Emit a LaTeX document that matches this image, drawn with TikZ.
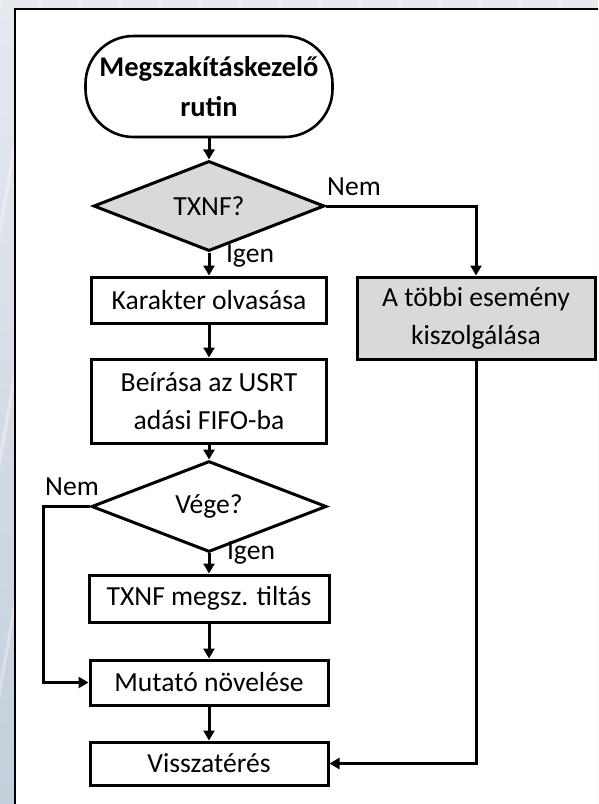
\documentclass[tikz,border=0pt]{standalone}
\usepackage{fontspec}
\setmainfont{Carlito}
\usetikzlibrary{shapes.geometric,arrows.meta}
\definecolor{framebg}{HTML}{D6DCE5}
\definecolor{framebgdark}{HTML}{C4CEDC}
\definecolor{decisiongray}{HTML}{D9D9D9}
\tikzset{
  every node/.style={font=\fontsize{27.6}{38}\selectfont},
  flowbox/.style={draw, line width=3pt, rectangle, inner sep=0pt, align=center},
  decision/.style={draw, line width=3pt, diamond, inner sep=0pt, fill=decisiongray},
  terminal/.style={draw, line width=2.6pt, rectangle, rounded corners=48pt, inner sep=0pt, align=center,
    font=\fontsize{28.5}{40}\selectfont\bfseries},
  arr/.style={line width=3pt, -{Triangle[length=10pt,width=11pt]}},
  lbl/.style={inner sep=0pt}
}
\begin{document}
\begin{tikzpicture}[x=1pt,y=-1pt]
\useasboundingbox (0,0) rectangle (598,804);
% backdrop and sheet
\begin{scope}
  \clip (0,0) rectangle (598,804);
  \shade[top color=framebg!60!white, bottom color=framebgdark] (0,0) rectangle (598,804);
  \foreach \k in {0,40,...,840} {
    \draw[white, opacity=0.35, line width=3pt] (\k-40,0) -- (\k-180,804);
  }
  \draw[fill=white, line width=2pt] (15,9) rectangle (620,830);
\end{scope}

% nodes
\node[terminal, minimum width=247pt, minimum height=101pt] (start) at (209,86.5)
  {Megszakításkezelő\\rutin};
\node[decision, minimum width=231pt, minimum height=66pt] (txnf) at (209,206) {TXNF?};
\node[flowbox, minimum width=235pt, minimum height=46pt] (olvas) at (209,300) {Karakter olvasása};
\node[flowbox, minimum width=235pt, minimum height=84pt] (beir) at (209,401)
  {Beírása az USRT\\adási FIFO-ba};
\node[flowbox, fill=decisiongray, minimum width=238pt, minimum height=82pt] (tobbi) at (476,318)
  {A többi esemény\\kiszolgálása};
\node[decision, fill=white, minimum width=235pt, minimum height=65pt] (vege) at (209,506.5) {Vége?};
\node[flowbox, minimum width=240pt, minimum height=47pt] (tilt) at (209,598.5) {TXNF megsz. tiltás};
\node[flowbox, minimum width=238pt, minimum height=45pt] (mutato) at (209,682.5) {Mutató növelése};
\node[flowbox, minimum width=238pt, minimum height=43pt] (vissza) at (209,763.5) {Visszatérés};

% branch labels
\node[lbl] (nem1) at (354,187) {Nem};
\node[lbl] (igen1) at (250,256) {Igen};
\node[lbl] (nem2) at (72,487) {Nem};
\node[lbl] (igen2) at (251,553) {Igen};

\coordinate (loop) at (43,506.5);

% connectors
\draw[arr] (start) -- (txnf);
\draw[arr] (txnf) -- (olvas);
\draw[arr] (txnf.east) -| (tobbi.north);
\draw[arr] (olvas) -- (beir);
\draw[arr] (beir) -- (vege);
\draw[arr] (vege) -- (tilt);
\draw[arr] (vege.west) -- (loop) |- (mutato.west);
\draw[arr] (tilt) -- (mutato);
\draw[arr] (mutato) -- (vissza);
\draw[arr] (tobbi.south) |- (vissza.east);
\end{tikzpicture}
\end{document}
